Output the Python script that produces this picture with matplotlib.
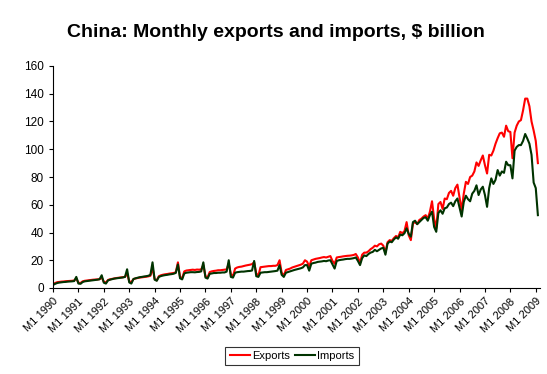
import numpy as np
import matplotlib.pyplot as plt

plt.rcParams['font.family'] = ['Liberation Sans', 'DejaVu Sans']

# Monthly values, $ billion (Jan 1990 - Feb 2009)
exports_by_year = {
    1990: [2.8, 3.6, 4.2, 4.4, 4.6, 4.7, 4.9, 5.0, 5.1, 5.2, 5.4, 7.0],
    1991: [3.8, 3.6, 4.8, 5.2, 5.4, 5.6, 5.8, 6.0, 6.1, 6.2, 6.4, 7.5],
    1992: [4.5, 4.0, 5.8, 6.3, 6.6, 6.9, 7.2, 7.4, 7.6, 7.8, 8.0, 10.5],
    1993: [4.8, 4.3, 6.4, 6.9, 7.2, 7.5, 7.7, 7.9, 8.1, 8.4, 8.8, 14.5],
    1994: [6.5, 5.5, 8.5, 9.2, 9.6, 9.9, 10.1, 10.4, 10.6, 10.8, 11.4, 18.5],
    1995: [8.0, 7.0, 12.0, 12.6, 12.8, 13.0, 13.2, 13.0, 13.3, 13.2, 13.4, 16.5],
    1996: [8.5, 7.5, 11.5, 12.0, 12.3, 12.5, 12.8, 12.8, 13.0, 13.2, 13.4, 17.5],
    1997: [10.0, 8.5, 14.0, 14.8, 15.2, 15.4, 15.8, 16.2, 16.5, 16.8, 17.2, 18.5],
    1998: [10.5, 9.0, 15.0, 15.2, 15.4, 15.6, 15.8, 15.8, 16.0, 16.0, 16.5, 20.0],
    1999: [11.0, 9.0, 13.0, 13.5, 14.0, 14.8, 15.3, 15.8, 16.3, 16.8, 17.5, 20.0],
    2000: [19.0, 15.5, 20.0, 20.5, 21.0, 21.3, 21.6, 22.0, 22.3, 22.0, 22.5, 23.0],
    2001: [19.5, 17.5, 22.0, 22.3, 22.5, 22.8, 23.0, 23.2, 23.3, 23.5, 23.8, 24.5],
    2002: [22.0, 18.0, 24.0, 25.5, 25.5, 26.5, 28.0, 29.0, 30.5, 30.0, 31.5, 32.0],
    2003: [30.5, 25.5, 33.0, 34.5, 34.0, 36.0, 37.5, 36.5, 40.5, 39.5, 41.0, 47.5],
    2004: [38.0, 34.5, 46.5, 47.5, 46.0, 49.0, 50.0, 51.5, 52.5, 50.0, 55.0, 62.5],
    2005: [50.0, 43.0, 60.5, 62.0, 57.0, 64.5, 64.0, 68.5, 70.0, 66.5, 72.0, 74.5],
    2006: [65.0, 56.0, 68.0, 76.5, 75.0, 80.0, 81.0, 84.0, 90.5, 88.0, 92.0, 95.5],
    2007: [88.5, 82.5, 96.0, 95.5, 99.0, 104.0, 108.0, 111.5, 112.0, 109.0, 117.0, 113.0],
    2008: [112.5, 93.5, 112.0, 117.0, 120.0, 121.0, 128.0, 136.5, 136.5, 131.0, 120.0, 113.5],
    2009: [106.0, 90.0],
}
imports_by_year = {
    1990: [2.2, 3.0, 3.6, 3.9, 4.1, 4.3, 4.4, 4.6, 4.7, 4.8, 5.0, 8.0],
    1991: [3.2, 3.0, 4.3, 4.8, 5.0, 5.2, 5.4, 5.6, 5.8, 6.0, 6.3, 9.2],
    1992: [3.8, 3.2, 5.5, 6.0, 6.4, 6.8, 7.0, 7.2, 7.4, 7.6, 8.0, 13.5],
    1993: [4.0, 3.2, 6.5, 7.0, 7.4, 7.8, 8.0, 8.3, 8.5, 8.8, 9.5, 18.5],
    1994: [6.0, 5.2, 8.0, 8.6, 9.0, 9.3, 9.5, 9.8, 10.0, 10.3, 10.9, 17.0],
    1995: [7.0, 6.2, 10.5, 11.0, 11.2, 11.4, 11.4, 11.3, 11.5, 11.6, 12.0, 18.5],
    1996: [7.5, 6.8, 10.2, 10.5, 10.8, 10.8, 11.0, 11.0, 11.2, 11.2, 11.8, 20.0],
    1997: [8.0, 7.5, 11.0, 11.4, 11.6, 11.8, 11.8, 12.0, 12.2, 12.3, 12.6, 19.5],
    1998: [8.5, 8.0, 11.0, 11.2, 11.4, 11.4, 11.6, 11.8, 12.0, 12.2, 12.5, 16.5],
    1999: [9.5, 8.0, 11.0, 11.5, 12.0, 12.5, 13.0, 13.4, 13.8, 14.2, 14.8, 16.5],
    2000: [16.5, 12.5, 17.5, 18.0, 18.3, 18.8, 19.0, 19.2, 19.5, 19.3, 19.8, 20.0],
    2001: [17.0, 14.0, 19.5, 20.0, 20.3, 20.5, 20.8, 21.0, 21.0, 21.2, 21.5, 22.0],
    2002: [19.5, 16.5, 21.5, 23.5, 23.0, 24.5, 25.5, 26.0, 27.5, 26.5, 27.5, 28.5],
    2003: [29.0, 24.0, 32.0, 33.5, 33.0, 35.0, 36.5, 35.5, 38.5, 38.0, 39.5, 43.0],
    2004: [39.0, 37.0, 47.5, 48.5, 46.0, 47.5, 49.0, 50.5, 51.0, 48.5, 52.5, 55.0],
    2005: [44.0, 40.5, 54.0, 56.0, 53.5, 57.5, 58.0, 60.5, 61.5, 59.0, 62.5, 64.5],
    2006: [58.0, 51.5, 62.0, 66.5, 64.0, 62.5, 68.0, 70.0, 74.0, 67.0, 71.0, 73.0],
    2007: [67.0, 58.5, 72.0, 79.0, 75.0, 78.0, 85.0, 81.0, 84.0, 83.0, 91.0, 88.5],
    2008: [88.5, 79.0, 99.0, 101.7, 103.0, 103.0, 106.0, 111.0, 107.7, 104.0, 96.0, 76.0],
    2009: [72.0, 52.5],
}
years = list(range(1990, 2010))
tick_labels = ["M1 %d" % y for y in years]

exports = [v for y in years for v in exports_by_year[y]]
imports = [v for y in years for v in imports_by_year[y]]
x = np.arange(len(exports))

fig = plt.figure(figsize=(5.47, 3.74), dpi=100)
ax = fig.add_axes([53 / 547, 86 / 374, 487 / 547, 222 / 374])

ax.plot(x, exports, color="#ff0000", linewidth=1.5, label="Exports")
ax.plot(x, imports, color="#003300", linewidth=1.5, label="Imports")

ax.set_xlim(0, len(x))
ax.set_ylim(0, 160)
ax.set_yticks(range(0, 161, 20))
ax.set_xticks(np.arange(0, len(x), 12))
ax.set_xticklabels(tick_labels, rotation=45, ha="right", rotation_mode="anchor")
ax.tick_params(axis="y", labelsize=8.5, length=3, width=0.8, colors="black")
ax.tick_params(axis="x", labelsize=8, length=3, width=0.8, colors="black", pad=3)
for side in ["top", "right"]:
    ax.spines[side].set_visible(False)
for side in ["left", "bottom"]:
    ax.spines[side].set_color("black")
    ax.spines[side].set_linewidth(0.8)

fig.text(0.505, 0.912, "China: Monthly exports and imports, $ billion",
         ha="center", va="center", fontsize=14, fontweight="bold")

leg = fig.legend(loc="center", bbox_to_anchor=(292 / 547, 1 - 356 / 374), ncol=2,
                 fontsize=8, frameon=True, fancybox=False, handlelength=1.8,
                 handletextpad=0.25, columnspacing=0.4, borderpad=0.4)
leg.get_frame().set_edgecolor("black")
leg.get_frame().set_linewidth(0.8)

fig.savefig("out.png", dpi=100)
